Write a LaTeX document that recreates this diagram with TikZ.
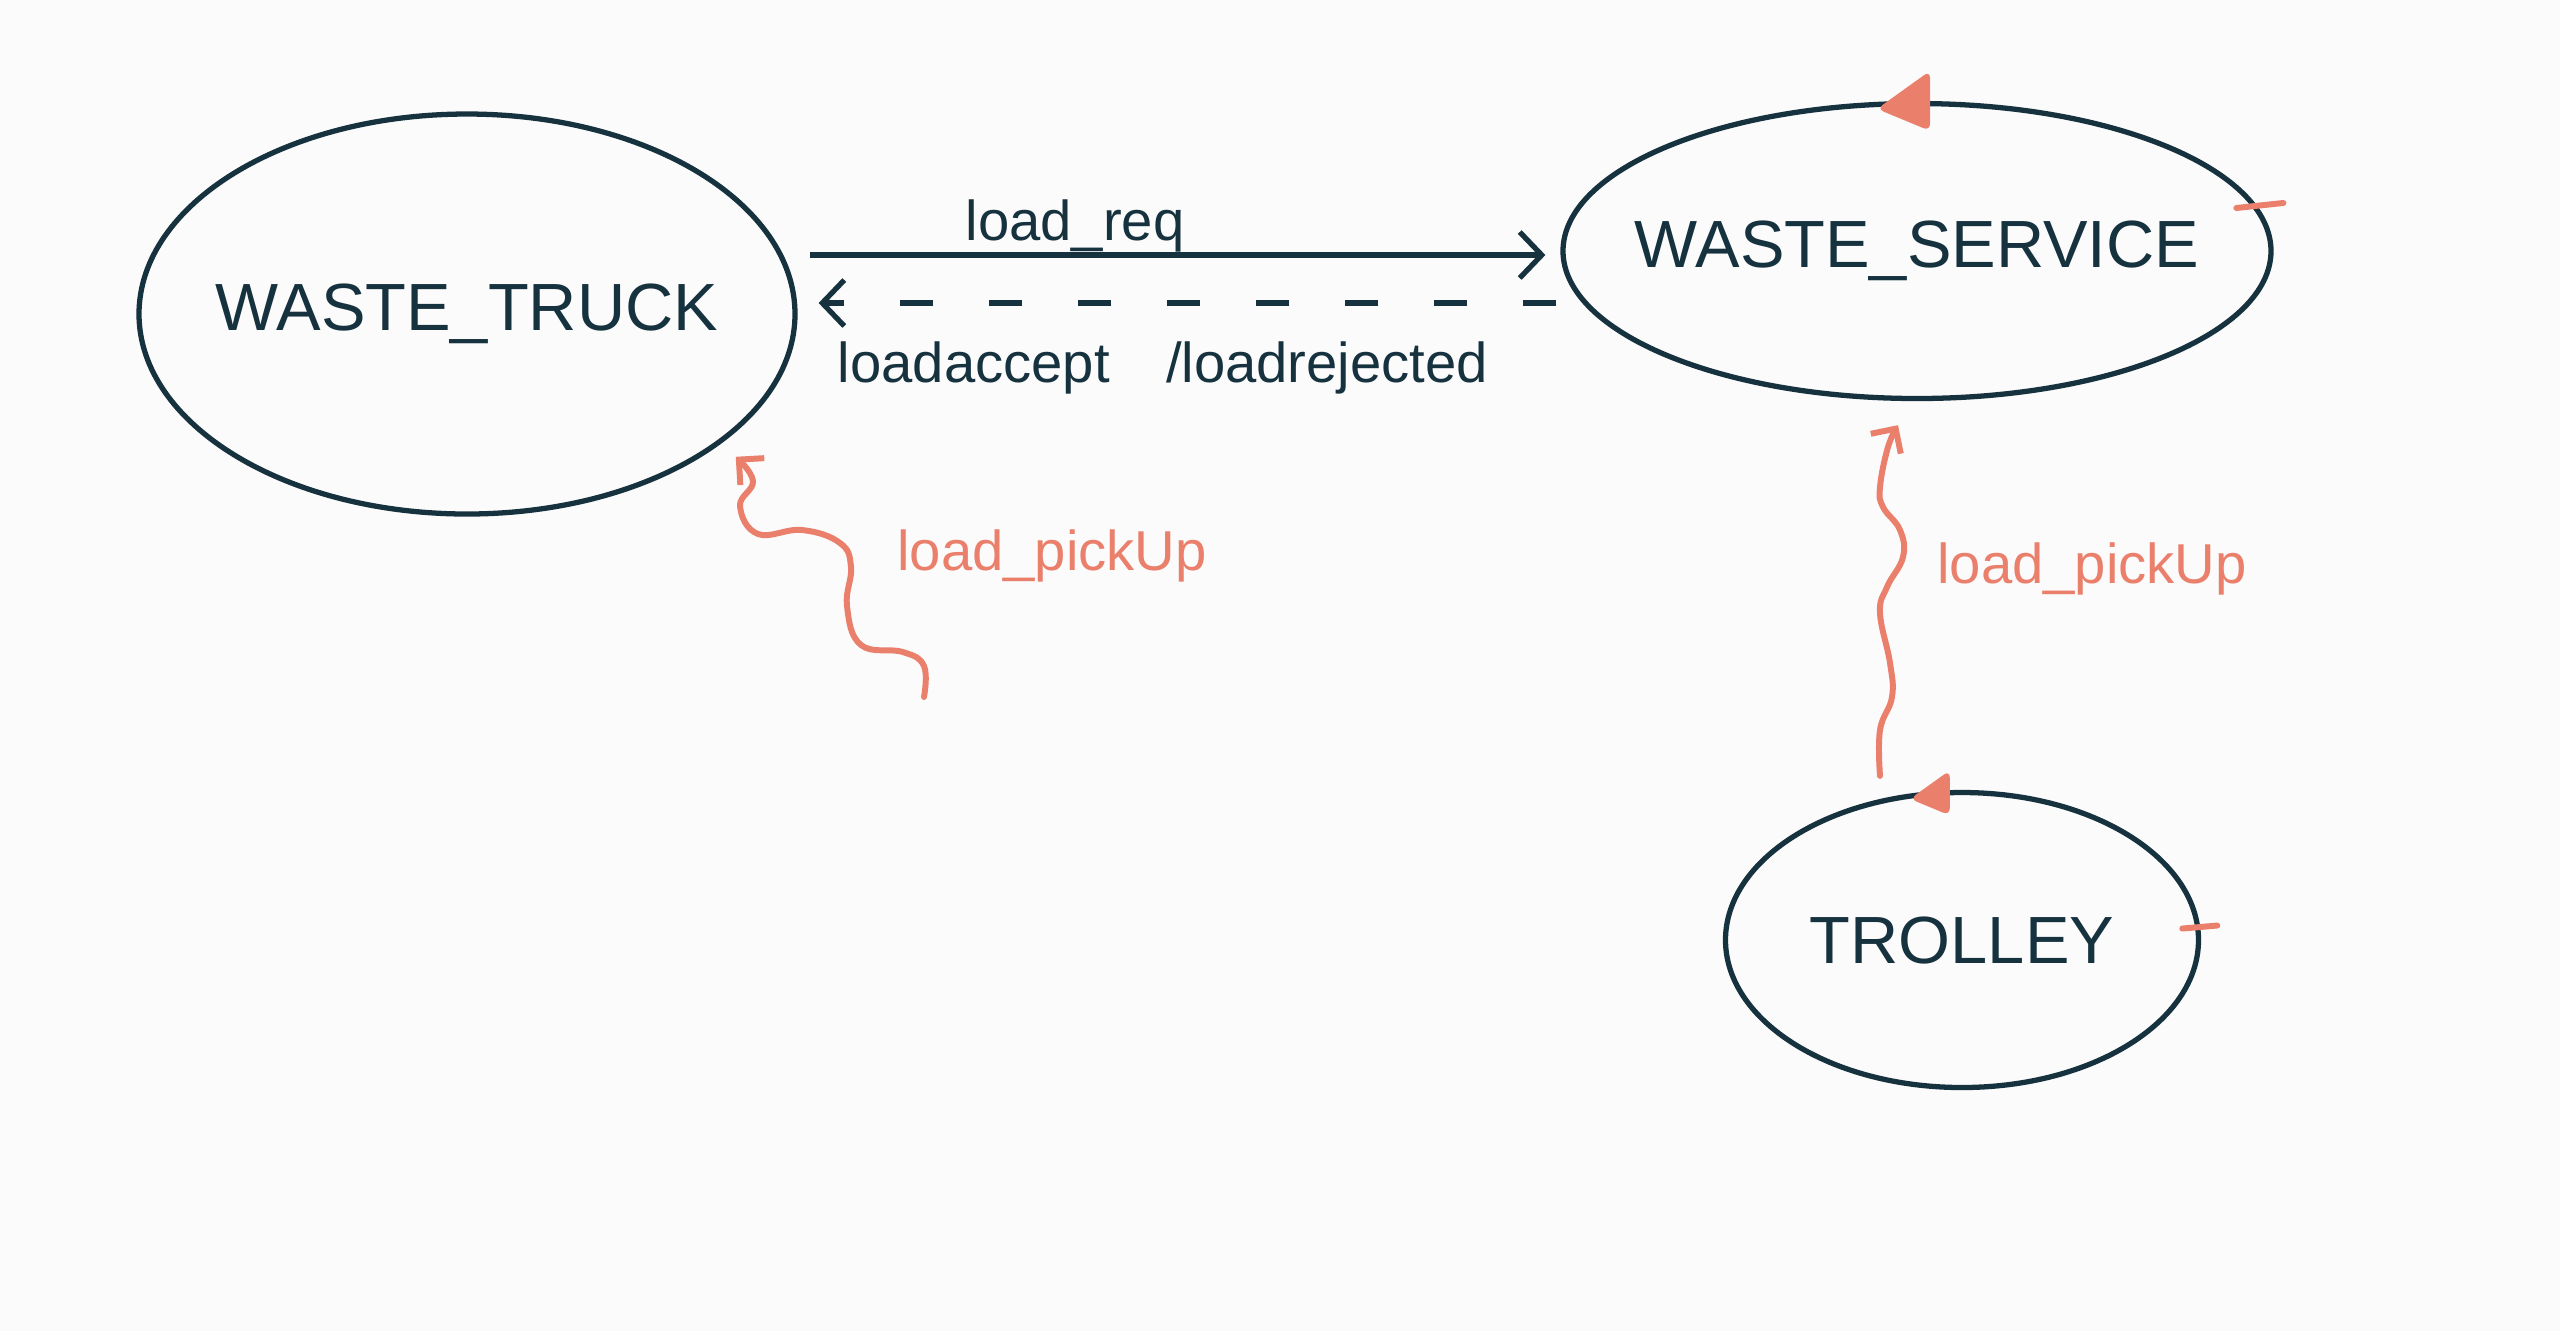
\documentclass[tikz,border=0pt]{standalone}
\usepackage{fontspec}
\setmainfont{Liberation Sans}
\usetikzlibrary{
		calc,
		positioning,
		arrows.meta,
		shapes.geometric
	}
\definecolor{ink}{HTML}{17323F}
\definecolor{salmon}{HTML}{EA806C}
\definecolor{paper}{HTML}{FBFBFB}
\tikzset{
		>={Straight Barb[length=2.2mm,width=4.6mm]}
	}
\tikzset{state/.style={draw=ink, line width=1.5pt, ellipse, inner xsep=-15mm, inner ysep=0pt, text=ink, font=\fontsize{19}{22}\selectfont}}
\tikzset{msg/.style={text=ink, font=\fontsize{16}{18}\selectfont, anchor=base}}
\tikzset{pick/.style={draw=salmon, line width=1.7pt, line cap=round, line join=round, >={Straight Barb[length=1.8mm,width=3.6mm]}}}
\tikzset{pics/marker/.style={code={ \fill[salmon, rounded corners=2pt] (-40,8) -- (13,-30) -- (13,30) -- cycle; }}}

\begin{document}
\begin{tikzpicture}[x=0.1mm, y=-0.1mm] % 1 unit = 1 pixel of the sketch, y pointing down
		\fill[paper] (0,0) rectangle (2560,1331);
		\useasboundingbox (0,0) rectangle (2560,1331);
		% states
		\node[state, minimum width=65.6mm, minimum height=40mm] (truck) at (467,314) {WASTE\_TRUCK};
		\node[state, minimum width=70.8mm, minimum height=29.5mm] (service) at (1917,251) {WASTE\_SERVICE};
		\node[state, minimum width=47.3mm, minimum height=29.5mm] (trolley) at (1962,940) {TROLLEY};
		% request and reply
		\draw[ink, line width=1.5pt, ->] ($(truck.east)+(12,-59)$) -- ($(service.west)+(-15,4)$);
		\draw[ink, line width=1.5pt, ->, dash pattern=on 3.3mm off 5.6mm] ($(service.west)+(-4,52)$) -- ($(truck.east)+(21,-11)$);
		\node[msg] (req) at (1075,240) {load\_req};
		\node[msg] (reply) at (1163,382) {loadaccept\quad/loadrejected};
		% pickup events
		\coordinate (pick1) at (924,697);
		\coordinate (tip1) at ($(truck.-28)+(19,10)$);
		\coordinate (pick2) at ($(trolley.north)+(-82,-14)$);
		\coordinate (tip2) at ($(service.south)+(-19,24)$);
		\draw[pick, ->] plot[smooth, tension=0.7] coordinates {(pick1) (924,666) (903,652) (861,645) (847,606) (851,567) (840,543) (802,530) (758,534) (740,506) (753,481) (tip1)};
		\draw[pick, ->] plot[smooth, tension=0.7] coordinates {(pick2) (1880,730) (1892,697) (1890,663) (1880,613) (1887,587) (1903,557) (1900,530) (1883,507) (1880,487) (1888,447) (tip2)};
		\node[msg, text=salmon] (pickl) at (1052,570) {load\_pickUp};
		\node[msg, text=salmon] (pickr) at (2092,583) {load\_pickUp};
		% marks on the states
		\pic at (service.north) {marker};
		\pic[scale=0.75] at ($(trolley.north)+(-22,3)$) {marker};
		\draw[pick] ($(service.7)+(-23,-1)$) -- ($(service.7)+(24,-6)$);
		\draw[pick] ($(trolley.3)+(-18,1)$) -- ($(trolley.3)+(17,-2)$);
	\end{tikzpicture}
\end{document}
